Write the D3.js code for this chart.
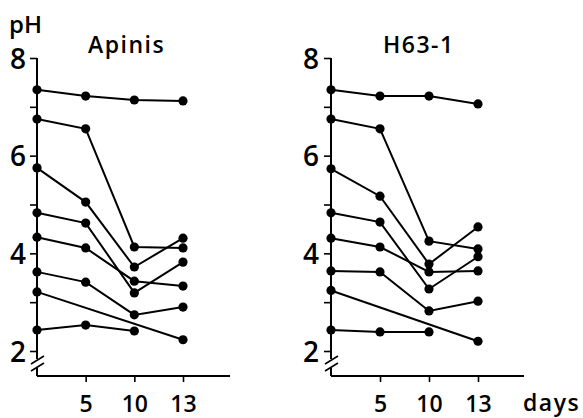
<!DOCTYPE html>
<html>
<head>
<meta charset="utf-8">
<script src="https://cdn.jsdelivr.net/npm/d3@7"></script>
<style>
  html, body { margin: 0; padding: 0; background: #fff; }
  svg { display: block; }
  text { font-family: "Open Sans", Lato, sans-serif; font-weight: 600; fill: #000; }
</style>
</head>
<body>
<svg id="chart" width="583" height="418"></svg>
<script>
// ---- data ----
const days = [0, 5, 10, 13];
const xTickDays = [5, 10, 13];
const yMajorTicks = [2, 4, 6, 8];
const yMinorTicks = [3, 5, 7];
const panelTitles = ["Apinis", "H63-1"];

const apinisSeries = [
  [7.35, 7.22, 7.14, 7.12],
  [6.75, 6.55, 4.13, 4.11],
  [5.75, 5.05, 3.72, 4.31],
  [4.83, 4.62, 3.19, 3.82],
  [4.33, 4.11, 3.43, 3.33],
  [3.62, 3.41, 2.74, 2.90],
  [3.21, null, null, 2.23],
  [2.43, 2.53, 2.41, null]
];
const h63Series = [
  [7.35, 7.22, 7.22, 7.06],
  [6.75, 6.55, 4.25, 4.09],
  [5.73, 5.17, 3.78, 4.54],
  [4.83, 4.64, 3.27, 3.93],
  [4.31, 4.13, 3.62, 3.64],
  [3.64, 3.62, 2.82, 3.02],
  [3.24, null, null, 2.20],
  [2.43, 2.39, 2.39, null]
];

// ---- layout ----
const svg = d3.select("#chart");
const y = d3.scaleLinear().domain([2, 8]).range([351, 58]);
const axisBottomY = 376;

const panels = [
  { title: panelTitles[0], data: apinisSeries, x0: 37, x13: 183, xEnd: 230, titleX: 88, labelRight: 26 },
  { title: panelTitles[1], data: h63Series, x0: 331, x13: 478, xEnd: 524, titleX: 383, labelRight: 319 }
];

svg.append("text").attr("x", 9).attr("y", 33)
  .attr("font-size", 24).text("pH");

panels.forEach(p => {
  const x = d3.scalePoint().domain(days).range([p.x0, p.x13]);
  const g = svg.append("g");

  // title
  g.append("text").attr("x", p.titleX).attr("y", 53)
    .attr("font-size", 23).attr("letter-spacing", 1.5).text(p.title);

  // y axis line with break
  g.append("line").attr("x1", p.x0).attr("x2", p.x0)
    .attr("y1", y(8)).attr("y2", 359)
    .attr("stroke", "#000").attr("stroke-width", 2);
  g.append("line").attr("x1", p.x0).attr("x2", p.x0)
    .attr("y1", 368).attr("y2", axisBottomY)
    .attr("stroke", "#000").attr("stroke-width", 2);
  [0, 7].forEach(o => {
    g.append("line")
      .attr("x1", p.x0 - 6).attr("y1", 364 + o)
      .attr("x2", p.x0 + 7).attr("y2", 356 + o)
      .attr("stroke", "#000").attr("stroke-width", 1.6);
  });

  // y ticks
  const yAxis = d3.axisLeft(y)
    .tickValues(yMajorTicks.concat(yMinorTicks))
    .tickSize(7).tickSizeOuter(0)
    .tickFormat(d => yMajorTicks.includes(d) ? d : "");
  const ya = g.append("g").attr("transform", `translate(${p.x0},0)`).call(yAxis);
  ya.select(".domain").remove();
  ya.selectAll(".tick line").attr("stroke", "#000").attr("stroke-width", 1.6);
  ya.selectAll(".tick text")
    .attr("x", -(p.x0 - p.labelRight))
    .attr("dy", "0.36em")
    .attr("font-size", 28)
    .attr("font-family", "'Open Sans', sans-serif")
    .attr("font-weight", 600)
    .attr("fill", "#000");

  // x axis
  g.append("line").attr("x1", p.x0).attr("x2", p.xEnd)
    .attr("y1", axisBottomY).attr("y2", axisBottomY)
    .attr("stroke", "#000").attr("stroke-width", 2);
  const xa = d3.axisBottom(x).tickValues(xTickDays).tickSize(6).tickSizeOuter(0);
  const xg = g.append("g").attr("transform", `translate(0,${axisBottomY})`).call(xa);
  xg.select(".domain").remove();
  xg.selectAll(".tick line").attr("stroke", "#000").attr("stroke-width", 1.6);
  xg.selectAll(".tick text")
    .attr("y", 36).attr("dy", 0)
    .attr("font-size", 23)
    .attr("font-family", "'Open Sans', sans-serif")
    .attr("font-weight", 600)
    .attr("fill", "#000");

  // series
  const line = d3.line().x(d => x(d.day)).y(d => y(d.v));
  p.data.forEach(s => {
    const pts = s.map((v, i) => ({ day: days[i], v })).filter(d => d.v != null);
    g.append("path").attr("d", line(pts))
      .attr("fill", "none").attr("stroke", "#000").attr("stroke-width", 2);
    g.selectAll(null).data(pts).enter().append("circle")
      .attr("cx", d => x(d.day)).attr("cy", d => y(d.v))
      .attr("r", 4.6).attr("fill", "#000");
  });
});

svg.append("text").attr("x", 523).attr("y", 411)
  .attr("font-size", 23).attr("letter-spacing", 1.5).text("days");
</script>
</body>
</html>
